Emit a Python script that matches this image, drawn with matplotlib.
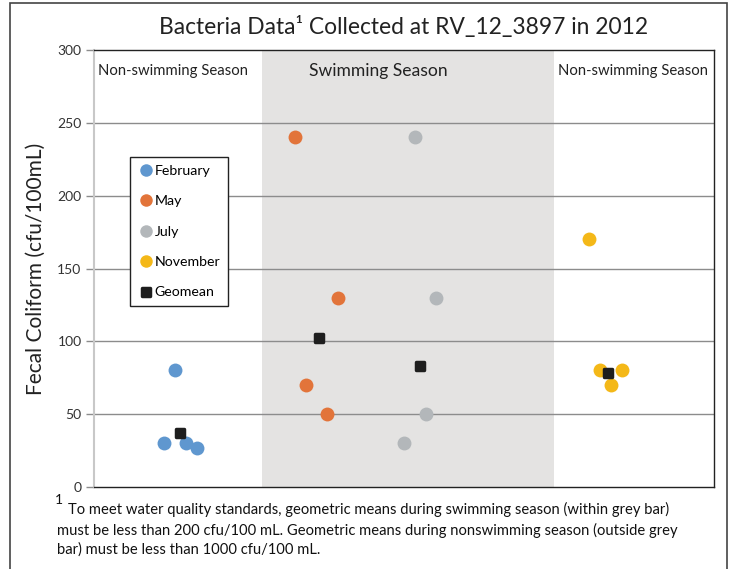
import matplotlib
matplotlib.use("Agg")
import matplotlib.pyplot as plt
from matplotlib.patches import Rectangle
from matplotlib.markers import MarkerStyle

plt.rcParams['font.family'] = ['Lato', 'DejaVu Sans']

# ---- data ----
feb_x = [13.1, 11.3, 14.8, 16.6]
feb_y = [80, 30, 30, 27]
may_x = [32.4, 39.4, 34.2, 37.6]
may_y = [240, 130, 70, 50]
jul_x = [51.8, 55.2, 53.5, 50.0]
jul_y = [240, 130, 50, 30]
nov_x = [79.8, 81.6, 85.2, 83.4]
nov_y = [170, 80, 80, 70]
geo_x = [13.9, 36.3, 52.6, 82.9]
geo_y = [37, 102, 83, 78]
swim_start, swim_end = 27.1, 74.2
yticks = [0, 50, 100, 150, 200, 250, 300]

fig = plt.figure(figsize=(7.35, 5.69), dpi=100)
ax = fig.add_axes([94/735, 1-487/569, 620/735, 437/569])

ax.axvspan(swim_start, swim_end, color='#E4E3E2', zorder=0, lw=0)
for t in yticks[1:-1]:
    ax.axhline(t, color='#8C8C8C', lw=1.0, zorder=1)

ms = 10
ax.plot(feb_x, feb_y, 'o', color='#5F97CF', ms=ms, mec='none', label='February', zorder=3)
ax.plot(may_x, may_y, 'o', color='#E2743A', ms=ms, mec='none', label='May', zorder=3)
ax.plot(jul_x, jul_y, 'o', color='#B3B7BA', ms=ms, mec='none', label='July', zorder=3)
ax.plot(nov_x, nov_y, 'o', color='#F4B818', ms=ms, mec='none', label='November', zorder=3)
ax.plot(geo_x, geo_y, linestyle='none', marker=MarkerStyle('s', joinstyle='round'),
        color='#1E1E1E', ms=6, mec='#1E1E1E', mew=2.5, label='Geomean', zorder=4)

ax.set_xlim(0, 100)
ax.set_ylim(0, 300)
ax.set_xticks([])
ax.set_yticks(yticks)
ax.tick_params(axis='y', length=6, width=1, color='#8C8C8C', labelsize=10, pad=3, labelcolor='#333333')
for s in ['top', 'right', 'bottom']:
    ax.spines[s].set_color('#222222')
    ax.spines[s].set_linewidth(1)
ax.spines['left'].set_color('#C8C8C8')
ax.spines['left'].set_linewidth(1.5)

ax.set_ylabel('Fecal Coliform (cfu/100mL)', fontsize=15, color='#222222', labelpad=8)

ly = 1-(71-50)/437
ax.text((173-94)/620, ly, 'Non-swimming Season', transform=ax.transAxes,
        ha='center', va='center', fontsize=10.7, color='#222222')
ax.text((378-94)/620, ly, 'Swimming Season', transform=ax.transAxes,
        ha='center', va='center', fontsize=12.6, color='#222222')
ax.text((633-94)/620, ly, 'Non-swimming Season', transform=ax.transAxes,
        ha='center', va='center', fontsize=10.7, color='#222222')

leg = ax.legend(loc='upper left', bbox_to_anchor=((130-94)/620, 1-(157-50)/437),
                frameon=True, fancybox=False, fontsize=10.2, handletextpad=0.0,
                handlelength=1.2, labelspacing=1.3, borderpad=0.55, borderaxespad=0,
                markerscale=0.9)
leg.get_frame().set_edgecolor('#222222')
leg.get_frame().set_linewidth(1)
leg.get_frame().set_facecolor('white')
leg.get_frame().set_alpha(1)

# title
fig.text(404/735, 1-27/569, 'Bacteria Data\u00b9 Collected at RV_12_3897 in 2012',
         ha='center', va='center', fontsize=16.4, color='#222222')

# footnote
fig.text(55/735, 1-500/569, '1', ha='left', va='center', fontsize=10, color='#111111')
fig.text(68/735, 1-509/569, 'To meet water quality standards, geometric means during swimming season (within grey bar)',
         ha='left', va='center', fontsize=10.65, color='#111111')
fig.text(57/735, 1-530/569, 'must be less than 200 cfu/100 mL. Geometric means during nonswimming season (outside grey',
         ha='left', va='center', fontsize=10.65, color='#111111')
fig.text(57/735, 1-550/569, 'bar) must be less than 1000 cfu/100 mL.',
         ha='left', va='center', fontsize=10.65, color='#111111')

# outer border
fig.patches.append(Rectangle((10/735, -0.05), 717/735, 1.05 - 3/569, transform=fig.transFigure,
                             fill=False, edgecolor='#444444', lw=1.2))

fig.savefig('out.png', dpi=100)
